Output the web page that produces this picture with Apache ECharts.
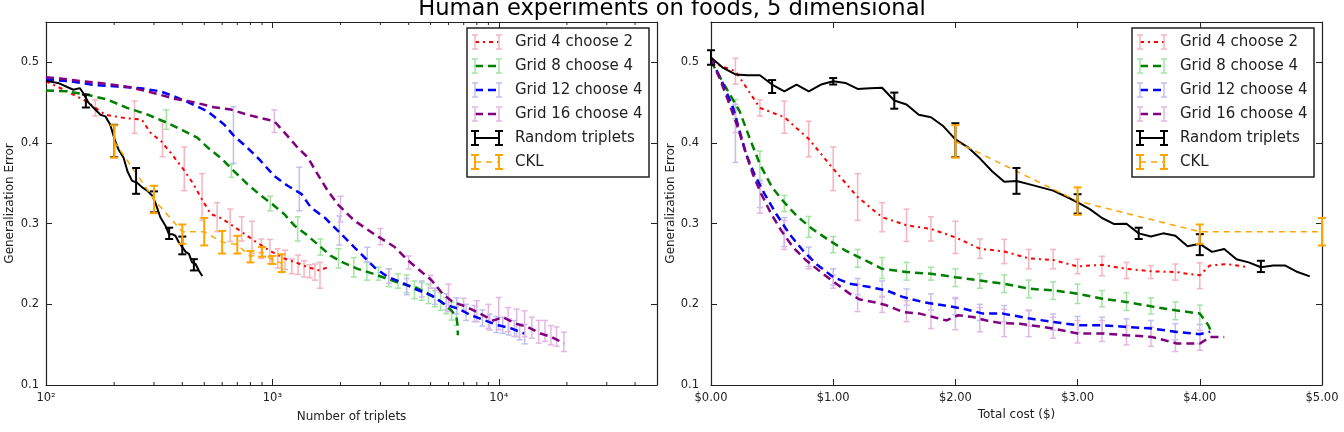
<!DOCTYPE html>
<html>
<head>
<meta charset="utf-8">
<script src="https://cdn.jsdelivr.net/npm/echarts@6/dist/echarts.min.js"></script>
<style>
  html, body { margin: 0; padding: 0; background: #fff; }
  #main { width: 1344px; height: 432px; }
</style>
</head>
<body>
<div id="main"></div>
<script>
// ---- data: left panel (x = number of triplets) ----
var leftG42 = [[100,0.4765],[120,0.466],[150,0.452],[183,0.435],[222,0.431],[265,0.429],[289,0.413],[323,0.402],[360,0.386],[408,0.366],[448,0.349],[489,0.33],[534,0.312],[581,0.308],[632,0.302],[738,0.289],[830,0.279],[967,0.267],[1127,0.257],[1295,0.251],[1434,0.246],[1615,0.242],[1757,0.246]];
var leftG42Err = [[165,0.4435,0.01],[246,0.432,0.02],[327,0.405,0.022],[408,0.368,0.027],[489,0.333,0.029],[570,0.308,0.018],[651,0.298,0.02],[732,0.2935,0.015],[813,0.283,0.02],[894,0.269,0.012],[975,0.2655,0.015],[1056,0.257,0.012],[1137,0.255,0.012],[1218,0.247,0.009],[1299,0.249,0.012],[1380,0.244,0.01],[1461,0.241,0.008],[1542,0.24,0.01],[1623,0.236,0.016]];
var leftG84 = [[100,0.465],[124,0.464],[151,0.46],[186,0.454],[228,0.4436],[280,0.4354],[343,0.425],[400,0.416],[466,0.4066],[520,0.394],[600,0.38],[660,0.368],[776,0.349],[880,0.336],[1000,0.324],[1127,0.312],[1253,0.2975],[1434,0.285],[1635,0.271],[1814,0.26],[2010,0.253],[2380,0.244],[2780,0.238],[3700,0.2255],[4270,0.2214],[4870,0.213],[5580,0.203],[6170,0.1926],[6500,0.1845],[6560,0.176],[6600,0.1617]];
var leftG84Err = [[340,0.429,0.012],[659,0.3655,0.008],[978,0.325,0.009],[1294,0.2935,0.015],[1630,0.271,0.01],[1960,0.257,0.012],[2290,0.246,0.012],[2615,0.241,0.011],[2940,0.238,0.008],[3265,0.233,0.011],[3590,0.229,0.009],[3915,0.2255,0.011],[4240,0.218,0.011],[4565,0.216,0.011],[4890,0.213,0.012],[5215,0.207,0.01],[5540,0.2035,0.011],[5865,0.1985,0.01],[6190,0.1915,0.011],[6515,0.186,0.012]];
var leftG124 = [[100,0.4786],[128,0.4765],[162,0.472],[206,0.47],[261,0.468],[320,0.464],[367,0.458],[421,0.451],[516,0.4395],[612,0.423],[676,0.409],[776,0.394],[887,0.378],[1019,0.359],[1168,0.347],[1342,0.337],[1480,0.32],[1694,0.308],[1944,0.2914],[2297,0.271],[2820,0.246],[3240,0.2337],[3710,0.2275],[4270,0.219],[5060,0.211],[5770,0.2],[6600,0.1946],[7570,0.1864],[8700,0.18],[9950,0.174],[11420,0.17],[12940,0.1638]];
var leftG124Err = [[673,0.41,0.035],[1315,0.343,0.027],[1977,0.2915,0.018],[2625,0.2617,0.009],[3268,0.235,0.009],[3920,0.222,0.01],[4570,0.219,0.01],[5220,0.21,0.01],[5870,0.203,0.01],[6520,0.198,0.01],[7170,0.19,0.01],[7820,0.1885,0.01],[8470,0.183,0.01],[9120,0.178,0.01],[9770,0.175,0.01],[10420,0.174,0.01],[11070,0.172,0.01],[11720,0.17,0.01],[12370,0.166,0.01],[13020,0.163,0.012]];
var leftG164 = [[100,0.4815],[115,0.48],[146,0.4765],[186,0.4733],[236,0.469],[299,0.462],[367,0.455],[421,0.452],[482,0.4485],[552,0.4444],[655,0.4415],[776,0.435],[887,0.431],[1019,0.427],[1168,0.4086],[1295,0.394],[1434,0.382],[1586,0.361],[1757,0.3407],[1944,0.324],[2297,0.304],[2820,0.287],[3469,0.271],[3987,0.254],[4570,0.24],[5060,0.2296],[5648,0.213],[6259,0.203],[7190,0.197],[8263,0.1885],[9463,0.18],[10420,0.184],[11900,0.176],[13400,0.172],[15290,0.1638],[17100,0.1596],[19440,0.1515]];
var leftG164Err = [[1020,0.427,0.014],[2000,0.318,0.016],[3000,0.284,0.01],[4000,0.252,0.008],[5000,0.228,0.008],[6000,0.208,0.017],[7000,0.2,0.0075],[8000,0.1915,0.013],[9000,0.185,0.015],[10000,0.1885,0.02],[11000,0.181,0.015],[12000,0.177,0.017],[13000,0.176,0.016],[14000,0.171,0.013],[15000,0.166,0.014],[16000,0.167,0.013],[17000,0.1617,0.012],[18000,0.16,0.012],[19400,0.1535,0.012]];
var leftRandom = [[100,0.477],[113,0.4745],[132,0.466],[141,0.468],[146,0.462],[154,0.45],[165,0.4415],[174,0.435],[183,0.433],[192,0.423],[202,0.4025],[209,0.392],[220,0.382],[229,0.365],[240,0.353],[252,0.351],[266,0.345],[280,0.341],[294,0.335],[304,0.326],[320,0.308],[337,0.2975],[349,0.287],[361,0.287],[373,0.285],[386,0.277],[400,0.271],[414,0.265],[428,0.2625],[442,0.252],[458,0.25],[473,0.242],[490,0.235]];
var leftRandomErr = [[150,0.452,0.008],[200,0.4025,0.02],[250,0.353,0.016],[300,0.327,0.013],[350,0.288,0.007],[400,0.273,0.011],[450,0.249,0.007]];
var leftCkl = [[200,0.402],[300,0.33],[400,0.29],[500,0.29],[600,0.277],[700,0.274],[800,0.259],[900,0.265],[1000,0.255],[1100,0.251]];
var leftCklErr = [[200,0.402,0.02],[300,0.33,0.017],[400,0.287,0.012],[500,0.29,0.017],[600,0.277,0.014],[700,0.274,0.011],[800,0.259,0.007],[900,0.265,0.006],[1000,0.255,0.005],[1100,0.251,0.011]];

// ---- data: right panel (x = total cost in dollars) ----
var rightG42 = [[0,0.5],[0.2,0.489],[0.4,0.4435],[0.6,0.432],[0.8,0.405],[1.0,0.368],[1.2,0.333],[1.4,0.308],[1.6,0.298],[1.8,0.2935],[2.0,0.283],[2.2,0.269],[2.4,0.2655],[2.6,0.257],[2.8,0.255],[3.0,0.247],[3.2,0.249],[3.4,0.244],[3.6,0.241],[3.8,0.24],[4.0,0.236],[4.08,0.248],[4.22,0.25],[4.4,0.246]];
var rightG42Err = [[0.2,0.489,0.016],[0.4,0.4435,0.01],[0.6,0.432,0.02],[0.8,0.405,0.022],[1.0,0.368,0.027],[1.2,0.333,0.029],[1.4,0.308,0.018],[1.6,0.298,0.02],[1.8,0.2935,0.015],[2.0,0.283,0.02],[2.2,0.269,0.012],[2.4,0.2655,0.015],[2.6,0.256,0.012],[2.8,0.256,0.012],[3.0,0.247,0.009],[3.2,0.2475,0.012],[3.4,0.242,0.01],[3.6,0.24,0.008],[3.8,0.24,0.01],[4.0,0.2355,0.016]];
var rightG84 = [[0,0.501],[0.03,0.493],[0.125,0.468],[0.234,0.4395],[0.315,0.4065],[0.4,0.3737],[0.5,0.345],[0.6,0.3263],[0.7,0.3099],[0.83,0.2933],[0.97,0.279],[1.1,0.2667],[1.24,0.2564],[1.4,0.244],[1.6,0.24],[1.8,0.238],[2.0,0.2337],[2.2,0.2296],[2.4,0.2255],[2.6,0.2194],[2.8,0.2173],[3.0,0.2132],[3.2,0.207],[3.4,0.203],[3.6,0.1975],[3.8,0.1926],[4.0,0.1885],[4.07,0.174],[4.1,0.1638]];
var rightG84Err = [[0.2,0.442,0.012],[0.4,0.372,0.018],[0.6,0.325,0.01],[0.8,0.296,0.013],[1.0,0.274,0.01],[1.2,0.257,0.011],[1.4,0.245,0.013],[1.6,0.241,0.011],[1.8,0.238,0.008],[2.0,0.233,0.011],[2.2,0.229,0.009],[2.4,0.2255,0.011],[2.6,0.219,0.011],[2.8,0.217,0.011],[3.0,0.213,0.012],[3.2,0.207,0.01],[3.4,0.2035,0.011],[3.6,0.198,0.01],[3.8,0.192,0.011],[4.0,0.187,0.012]];
var rightG124 = [[0,0.505],[0.1,0.4725],[0.18,0.444],[0.234,0.4148],[0.288,0.386],[0.356,0.361],[0.438,0.337],[0.534,0.312],[0.643,0.287],[0.752,0.2667],[0.862,0.25],[1.0,0.2337],[1.135,0.2255],[1.3,0.2214],[1.436,0.2173],[1.572,0.209],[1.736,0.2028],[1.9,0.1988],[2.063,0.1947],[2.227,0.1885],[2.39,0.1885],[2.61,0.1823],[2.8,0.1782],[3.0,0.174],[3.21,0.174],[3.4,0.172],[3.607,0.17],[3.812,0.1658],[4.0,0.163],[4.085,0.166]];
var rightG124Err = [[0.2,0.412,0.036],[0.4,0.335,0.015],[0.6,0.2895,0.018],[0.8,0.259,0.012],[1.0,0.234,0.01],[1.2,0.222,0.01],[1.4,0.219,0.01],[1.6,0.209,0.01],[1.8,0.203,0.01],[2.0,0.197,0.01],[2.2,0.19,0.01],[2.4,0.1885,0.01],[2.6,0.183,0.01],[2.8,0.178,0.01],[3.0,0.175,0.01],[3.2,0.174,0.01],[3.4,0.172,0.01],[3.6,0.17,0.01],[3.8,0.166,0.01],[4.0,0.163,0.012]];
var rightG164 = [[0,0.5035],[0.07,0.4806],[0.152,0.4477],[0.22,0.419],[0.288,0.386],[0.343,0.361],[0.411,0.337],[0.493,0.312],[0.575,0.2914],[0.67,0.271],[0.78,0.2543],[0.916,0.2379],[1.026,0.2255],[1.135,0.2132],[1.217,0.206],[1.326,0.203],[1.436,0.1988],[1.572,0.1905],[1.708,0.1885],[1.817,0.1843],[1.927,0.18],[2.02,0.1864],[2.145,0.1843],[2.255,0.18],[2.364,0.177],[2.528,0.176],[2.8,0.17],[3.0,0.1638],[3.21,0.1638],[3.4,0.1617],[3.607,0.1596],[3.812,0.1515],[4.0,0.1515],[4.085,0.1596],[4.2,0.1596]];
var rightG164Err = [[0.2,0.427,0.014],[0.4,0.333,0.02],[0.6,0.286,0.018],[0.8,0.252,0.008],[1.0,0.228,0.008],[1.2,0.208,0.017],[1.4,0.2,0.01],[1.6,0.1915,0.013],[1.8,0.185,0.015],[2.0,0.1885,0.02],[2.2,0.181,0.015],[2.4,0.177,0.017],[2.6,0.176,0.016],[2.8,0.171,0.013],[3.0,0.166,0.014],[3.2,0.167,0.013],[3.4,0.1617,0.012],[3.6,0.16,0.012],[3.8,0.1535,0.012],[4.0,0.1555,0.0125]];
var rightRandom = [[0,0.506],[0.1,0.493],[0.2,0.485],[0.3,0.484],[0.4,0.484],[0.5,0.4725],[0.6,0.464],[0.7,0.4725],[0.8,0.464],[0.9,0.4725],[1.0,0.4765],[1.1,0.4745],[1.2,0.467],[1.3,0.468],[1.4,0.4685],[1.5,0.4527],[1.6,0.4477],[1.7,0.435],[1.8,0.432],[1.9,0.421],[2.0,0.4045],[2.1,0.395],[2.2,0.381],[2.3,0.365],[2.4,0.352],[2.5,0.353],[2.6,0.349],[2.7,0.345],[2.8,0.341],[2.9,0.334],[3.0,0.3263],[3.1,0.318],[3.2,0.307],[3.3,0.2995],[3.4,0.3],[3.5,0.288],[3.6,0.284],[3.7,0.288],[3.8,0.285],[3.9,0.272],[4.0,0.275],[4.1,0.265],[4.2,0.2687],[4.3,0.256],[4.4,0.252],[4.5,0.246],[4.6,0.248],[4.7,0.248],[4.8,0.24],[4.9,0.2346]];
var rightRandomErr = [[0,0.506,0.009],[0.5,0.47,0.008],[1.0,0.4765,0.004],[1.5,0.4525,0.01],[2.0,0.4035,0.021],[2.5,0.353,0.016],[3.0,0.3245,0.012],[3.5,0.288,0.007],[4.0,0.274,0.013],[4.5,0.247,0.007]];
var rightCkl = [[2,0.402],[3,0.328],[4,0.29],[5,0.29]];
var rightCklErr = [[2,0.402,0.02],[3,0.328,0.017],[4,0.287,0.012],[5,0.29,0.017]];

// tick values
var yTicks = [0.1, 0.2, 0.3, 0.4, 0.5];
var logMinorTicks = [200,300,400,500,600,700,800,900,2000,3000,4000,5000,6000,7000,8000,9000,20000,30000,40000];

var legendNames = ['Grid 4 choose 2', 'Grid 8 choose 4', 'Grid 12 choose 4', 'Grid 16 choose 4', 'Random triplets', 'CKL'];

// styles
var lineColors = ['#ff0000', '#008000', '#0000ff', '#800080', '#000000', '#ffa500'];
var barColors = ['#f6b4c0', '#a3e4a3', '#c0c0f0', '#e4b6e4', '#000000', '#ffa500'];
var dashes = [[4, 4, 2, 4], [8, 5], [8, 5], [8, 5], 'solid', [6, 5]];
var lineWidths = [2, 2.5, 2.5, 2.5, 2, 1.5];
var barWidths = [1.5, 1.5, 1.5, 1.5, 2, 2];
var capHalf = [3, 3, 3, 3, 4, 4];
var textColor = '#222';
var font = 'DejaVu Sans';

var chart = echarts.init(document.getElementById('main'));

// error bar drawn from [x, y, err] through the axis scales
function errBar(color, width, cap) {
  return function (params, api) {
    var x = api.value(0), y = api.value(1), e = api.value(2);
    var lo = api.coord([x, y - e]);
    var hi = api.coord([x, y + e]);
    var st = { stroke: color, lineWidth: width };
    return {
      type: 'group',
      children: [
        { type: 'line', shape: { x1: lo[0], y1: lo[1], x2: hi[0], y2: hi[1] }, style: st },
        { type: 'line', shape: { x1: lo[0] - cap, y1: lo[1], x2: lo[0] + cap, y2: lo[1] }, style: st },
        { type: 'line', shape: { x1: hi[0] - cap, y1: hi[1], x2: hi[0] + cap, y2: hi[1] }, style: st }
      ]
    };
  };
}

var series = [];
function addPanel(lines, errs, xi, yi) {
  lines.forEach(function (d, i) {
    series.push({
      name: legendNames[i],
      type: 'custom',
      xAxisIndex: xi,
      yAxisIndex: yi,
      silent: true,
      z: i >= 4 ? 5 : 2,
      encode: { x: 0, y: 1 },
      data: errs[i],
      renderItem: errBar(barColors[i], barWidths[i], capHalf[i])
    });
    series.push({
      name: legendNames[i],
      type: 'line',
      xAxisIndex: xi,
      yAxisIndex: yi,
      silent: true,
      z: 3,
      symbol: 'none',
      showSymbol: false,
      data: d,
      lineStyle: { color: lineColors[i], width: lineWidths[i], type: dashes[i], cap: 'butt' }
    });
  });
}
addPanel([leftG42, leftG84, leftG124, leftG164, leftRandom, leftCkl],
  [leftG42Err, leftG84Err, leftG124Err, leftG164Err, leftRandomErr, leftCklErr], 0, 0);
addPanel([rightG42, rightG84, rightG124, rightG164, rightRandom, rightCkl],
  [rightG42Err, rightG84Err, rightG124Err, rightG164Err, rightRandomErr, rightCklErr], 2, 2);

// minor ticks of the log axis (bottom and top)
series.push({
  type: 'custom',
  xAxisIndex: 0,
  yAxisIndex: 0,
  silent: true,
  z: 6,
  encode: { x: 0 },
  data: logMinorTicks.map(function (v) { return [v]; }),
  renderItem: function (params, api) {
    var b = api.coord([api.value(0), 0.1]);
    var t = api.coord([api.value(0), 0.55]);
    var st = { stroke: textColor, lineWidth: 1 };
    return {
      type: 'group',
      children: [
        { type: 'line', shape: { x1: b[0], y1: b[1], x2: b[0], y2: b[1] - 3 }, style: st },
        { type: 'line', shape: { x1: t[0], y1: t[1], x2: t[0], y2: t[1] + 3 }, style: st }
      ]
    };
  }
});

// legend boxes drawn as graphics
function legendBox(x0, y0) {
  var els = [{
    type: 'rect', z: 100,
    shape: { x: x0, y: y0, width: 182, height: 149 },
    style: { fill: '#fff', stroke: textColor, lineWidth: 1.5 }
  }];
  legendNames.forEach(function (name, i) {
    var cy = y0 + 14 + i * 24;
    var b1 = x0 + 8, b2 = x0 + 32;
    els.push({
      type: 'line', z: 101,
      shape: { x1: b1, y1: cy, x2: b2, y2: cy },
      style: { stroke: lineColors[i], lineWidth: lineWidths[i], lineDash: dashes[i] === 'solid' ? null : dashes[i] }
    });
    [b1, b2].forEach(function (bx) {
      var st = { stroke: barColors[i], lineWidth: barWidths[i] };
      var c = capHalf[i];
      els.push({ type: 'line', z: 102, shape: { x1: bx, y1: cy - 7, x2: bx, y2: cy + 7 }, style: st });
      els.push({ type: 'line', z: 102, shape: { x1: bx - c, y1: cy - 7, x2: bx + c, y2: cy - 7 }, style: st });
      els.push({ type: 'line', z: 102, shape: { x1: bx - c, y1: cy + 7, x2: bx + c, y2: cy + 7 }, style: st });
    });
    els.push({
      type: 'text', z: 101, x: x0 + 48, y: cy,
      style: { text: name, fontSize: 15, fontFamily: font, fill: textColor, verticalAlign: 'middle' }
    });
  });
  return els;
}

var axisLine = { show: true, onZero: false, lineStyle: { color: textColor, width: 1.2 } };
var axisTick = { show: true, inside: true, length: 6, lineStyle: { color: textColor, width: 1 } };
var labelStyle = { color: textColor, fontSize: 11.5, fontFamily: font };
var nameStyle = { color: textColor, fontSize: 12, fontFamily: font };
var sup = { 2: '\u00b2', 3: '\u00b3', 4: '\u2074' };

function yLabel(v) {
  return yTicks.indexOf(Math.round(v * 10) / 10) >= 0 && Math.abs(v * 10 - Math.round(v * 10)) < 1e-6 ? v.toFixed(1) : '';
}
function logLabel(v) {
  var p = Math.log(v) / Math.LN10;
  if (Math.abs(p - Math.round(p)) > 1e-6) return '';
  return '10' + (sup[Math.round(p)] || '');
}

function yAxes(gridIndex, gap) {
  return [{
    type: 'value', gridIndex: gridIndex, position: 'left', min: 0.1, max: 0.55, interval: 0.1,
    axisLine: axisLine, axisTick: axisTick, splitLine: { show: false },
    axisLabel: Object.assign({ formatter: yLabel, margin: gap }, labelStyle),
    name: 'Generalization Error', nameLocation: 'middle', nameGap: 30, nameTextStyle: nameStyle
  }, {
    type: 'value', gridIndex: gridIndex, position: 'right', min: 0.1, max: 0.55, interval: 0.1,
    axisLine: axisLine, axisTick: axisTick, splitLine: { show: false }, axisLabel: { show: false }
  }];
}

chart.setOption({
  animation: false,
  backgroundColor: '#fff',
  title: {
    text: 'Human experiments on foods, 5 dimensional',
    left: 'center',
    top: -7,
    textStyle: { fontSize: 22.6, fontWeight: 'normal', fontFamily: font, color: '#000' }
  },
  grid: [
    { left: 46, right: 687, top: 22, bottom: 47, containLabel: false, outerBoundsMode: 'none' },
    { left: 711, right: 22, top: 22, bottom: 47, containLabel: false, outerBoundsMode: 'none' }
  ],
  xAxis: [{
    type: 'log', logBase: 10, gridIndex: 0, position: 'bottom', min: 100, max: 50000,
    axisLine: axisLine, axisTick: axisTick, splitLine: { show: false },
    axisLabel: Object.assign({ formatter: logLabel, margin: 7 }, labelStyle),
    name: 'Number of triplets', nameLocation: 'middle', nameGap: 26, nameTextStyle: nameStyle
  }, {
    type: 'log', logBase: 10, gridIndex: 0, position: 'top', min: 100, max: 50000,
    axisLine: axisLine, axisTick: axisTick, splitLine: { show: false }, axisLabel: { show: false }
  }, {
    type: 'value', gridIndex: 1, position: 'bottom', min: 0, max: 5, interval: 1,
    axisLine: axisLine, axisTick: axisTick, splitLine: { show: false },
    axisLabel: Object.assign({ formatter: function (v) { return '$' + v.toFixed(2); }, margin: 7 }, labelStyle),
    name: 'Total cost ($)', nameLocation: 'middle', nameGap: 24, nameTextStyle: nameStyle
  }, {
    type: 'value', gridIndex: 1, position: 'top', min: 0, max: 5, interval: 1,
    axisLine: axisLine, axisTick: axisTick, splitLine: { show: false }, axisLabel: { show: false }
  }],
  yAxis: yAxes(0, 7).concat(yAxes(1, 12)),
  graphic: { elements: legendBox(467, 28).concat(legendBox(1132, 28)) },
  series: series
});
</script>
</body>
</html>
